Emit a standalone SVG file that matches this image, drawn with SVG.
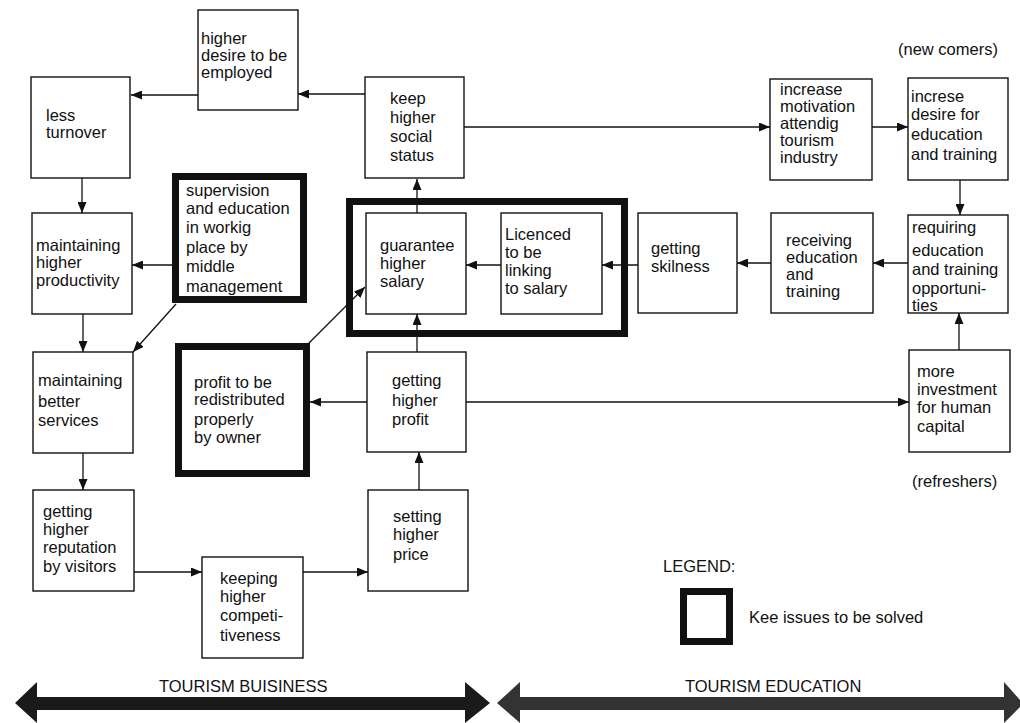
<svg xmlns="http://www.w3.org/2000/svg" width="1020" height="723" viewBox="0 0 1020 723">
  <style>
    .box { fill: #fff; stroke: #111; stroke-width: 1.4; }
    .key { fill: none; stroke: #111; stroke-width: 7; }
    .t { font-family: "Liberation Sans", Arial, sans-serif; font-size: 16.5px; fill: #111; }
    .c { fill: none; stroke: #111; stroke-width: 1.3; marker-end: url(#ah); }
  </style>
  <defs>
    <marker id="ah" markerUnits="userSpaceOnUse" markerWidth="11" markerHeight="9" refX="11" refY="4.5" orient="auto">
      <path d="M0,0 L11,4.5 L0,9 z" fill="#111"/>
    </marker>
  </defs>
  <rect width="1020" height="723" fill="#fff"/>

  <!-- connectors -->
  <g id="connectors">
    <line class="c" x1="365" y1="94" x2="298" y2="94"/>
    <line class="c" x1="198" y1="95" x2="131" y2="95"/>
    <line class="c" x1="82" y1="178" x2="82" y2="213"/>
    <line class="c" x1="172" y1="265" x2="132" y2="265"/>
    <line class="c" x1="83" y1="314" x2="83" y2="352"/>
    <line class="c" x1="176" y1="304" x2="133" y2="352"/>
    <line class="c" x1="83" y1="453" x2="83" y2="490"/>
    <line class="c" x1="134" y1="572" x2="202" y2="572"/>
    <line class="c" x1="303" y1="572" x2="368" y2="572"/>
    <line class="c" x1="419" y1="490" x2="419" y2="452"/>
    <line class="c" x1="417" y1="352" x2="417" y2="314"/>
    <line class="c" x1="417" y1="213" x2="417" y2="179"/>
    <line class="c" x1="501" y1="265" x2="466" y2="265"/>
    <line class="c" x1="638" y1="265" x2="602" y2="265"/>
    <line class="c" x1="771" y1="263" x2="737" y2="263"/>
    <line class="c" x1="908" y1="263" x2="873" y2="263"/>
    <line class="c" x1="960" y1="180" x2="960" y2="215"/>
    <line class="c" x1="959" y1="350" x2="959" y2="313"/>
    <line class="c" x1="466" y1="402" x2="909" y2="402"/>
    <line class="c" x1="367" y1="402" x2="310" y2="402"/>
    <line class="c" x1="308" y1="344" x2="365" y2="287"/>
    <line class="c" x1="464" y1="127" x2="770" y2="127"/>
    <line class="c" x1="872" y1="127" x2="908" y2="127"/>
  </g>

  <!-- key-issue frame around salary nodes -->
  <rect class="key" x="349.5" y="201.5" width="275" height="132"/>

  <g id="n-desire">
    <rect class="box" x="198" y="10" width="100" height="100"/>
    <text class="t"><tspan x="201" y="44">higher</tspan><tspan x="201" y="61">desire to be</tspan><tspan x="201" y="78">employed</tspan></text>
  </g>
  <g id="n-turnover">
    <rect class="box" x="31" y="77" width="99" height="101"/>
    <text class="t"><tspan x="46" y="121">less</tspan><tspan x="46" y="138">turnover</tspan></text>
  </g>
  <g id="n-status">
    <rect class="box" x="365" y="77" width="99" height="101"/>
    <text class="t"><tspan x="390" y="104">keep</tspan><tspan x="390" y="123">higher</tspan><tspan x="390" y="142">social</tspan><tspan x="390" y="161">status</tspan></text>
  </g>
  <g id="n-motivation">
    <rect class="box" x="770" y="79" width="102" height="101"/>
    <text class="t"><tspan x="780" y="95">increase</tspan><tspan x="780" y="112">motivation</tspan><tspan x="780" y="129">attendig</tspan><tspan x="780" y="146">tourism</tspan><tspan x="780" y="163">industry</tspan></text>
  </g>
  <g id="n-desire-edu">
    <rect class="box" x="908" y="78" width="100" height="102"/>
    <text class="t"><tspan x="911" y="102">increse</tspan><tspan x="911" y="120">desire for</tspan><tspan x="911" y="140">education</tspan><tspan x="911" y="160">and training</tspan></text>
  </g>
  <text class="t" x="898" y="55">(new comers)</text>

  <g id="n-supervision">
    <rect class="key" x="175.5" y="176.5" width="128" height="123"/>
    <text class="t"><tspan x="186" y="196">supervision</tspan><tspan x="186" y="214">and education</tspan><tspan x="186" y="233">in workig</tspan><tspan x="186" y="253">place by</tspan><tspan x="186" y="272">middle</tspan><tspan x="186" y="292">management</tspan></text>
  </g>
  <g id="n-productivity">
    <rect class="box" x="32" y="213" width="100" height="101"/>
    <text class="t"><tspan x="36" y="251">maintaining</tspan><tspan x="36" y="268">higher</tspan><tspan x="36" y="286">productivity</tspan></text>
  </g>
  <g id="n-salary">
    <rect class="box" x="366" y="213" width="100" height="101"/>
    <text class="t"><tspan x="380" y="251">guarantee</tspan><tspan x="380" y="269">higher</tspan><tspan x="380" y="287">salary</tspan></text>
  </g>
  <g id="n-licence">
    <rect class="box" x="501" y="213" width="101" height="101"/>
    <text class="t"><tspan x="505" y="240">Licenced</tspan><tspan x="505" y="258">to be</tspan><tspan x="505" y="276">linking</tspan><tspan x="505" y="294">to salary</tspan></text>
  </g>
  <g id="n-skill">
    <rect class="box" x="638" y="213" width="99" height="100"/>
    <text class="t"><tspan x="651" y="254">getting</tspan><tspan x="651" y="272">skilness</tspan></text>
  </g>
  <g id="n-receiving">
    <rect class="box" x="771" y="213" width="102" height="100"/>
    <text class="t"><tspan x="786" y="246">receiving</tspan><tspan x="786" y="263">education</tspan><tspan x="786" y="280">and</tspan><tspan x="786" y="297">training</tspan></text>
  </g>
  <g id="n-requiring">
    <rect class="box" x="908" y="215" width="100" height="98"/>
    <text class="t"><tspan x="912" y="233">requiring</tspan><tspan x="912" y="256">education</tspan><tspan x="912" y="275">and training</tspan><tspan x="912" y="294">opportuni-</tspan><tspan x="912" y="311">ties</tspan></text>
  </g>

  <g id="n-services">
    <rect class="box" x="33" y="352" width="100" height="101"/>
    <text class="t"><tspan x="38" y="386">maintaining</tspan><tspan x="38" y="407">better</tspan><tspan x="38" y="426">services</tspan></text>
  </g>
  <g id="n-redistribute">
    <rect class="key" x="178.5" y="346.5" width="128" height="127"/>
    <text class="t"><tspan x="194" y="388">profit to be</tspan><tspan x="194" y="405">redistributed</tspan><tspan x="194" y="425">properly</tspan><tspan x="194" y="443">by owner</tspan></text>
  </g>
  <g id="n-profit">
    <rect class="box" x="367" y="352" width="99" height="100"/>
    <text class="t"><tspan x="392" y="386">getting</tspan><tspan x="392" y="406">higher</tspan><tspan x="392" y="425">profit</tspan></text>
  </g>
  <g id="n-investment">
    <rect class="box" x="909" y="350" width="101" height="102"/>
    <text class="t"><tspan x="917" y="377">more</tspan><tspan x="917" y="395">investment</tspan><tspan x="917" y="413">for human</tspan><tspan x="917" y="432">capital</tspan></text>
  </g>
  <text class="t" x="912" y="487">(refreshers)</text>

  <g id="n-reputation">
    <rect class="box" x="33" y="490" width="101" height="101"/>
    <text class="t"><tspan x="43" y="517">getting</tspan><tspan x="43" y="535">higher</tspan><tspan x="43" y="553">reputation</tspan><tspan x="43" y="572">by visitors</tspan></text>
  </g>
  <g id="n-competitiveness">
    <rect class="box" x="202" y="557" width="101" height="101"/>
    <text class="t"><tspan x="220" y="584">keeping</tspan><tspan x="220" y="602">higher</tspan><tspan x="220" y="621">competi-</tspan><tspan x="220" y="641">tiveness</tspan></text>
  </g>
  <g id="n-price">
    <rect class="box" x="368" y="490" width="100" height="101"/>
    <text class="t"><tspan x="393" y="522">setting</tspan><tspan x="393" y="540">higher</tspan><tspan x="393" y="560">price</tspan></text>
  </g>

  <!-- legend -->
  <g id="legend">
    <text class="t" x="663" y="572">LEGEND:</text>
    <rect class="key" x="683.5" y="591.5" width="46" height="50"/>
    <text class="t" x="749" y="623">Kee issues to be solved</text>
  </g>

  <!-- domain bands -->
  <g id="band-business">
    <path d="M15,703 L37,682 L37,697 L465,697 L465,682 L490,703 L465,723 L465,710 L37,710 L37,723 z" fill="#1a1a1a"/>
    <text class="t" x="159" y="692">TOURISM BUISINESS</text>
  </g>
  <g id="band-education">
    <path d="M497,703 L520,682 L520,697 L1004,697 L1004,682 L1020,700 L1020,707 L1004,723 L1004,710 L520,710 L520,723 z" fill="#333"/>
    <text class="t" x="685" y="692">TOURISM EDUCATION</text>
  </g>
</svg>
